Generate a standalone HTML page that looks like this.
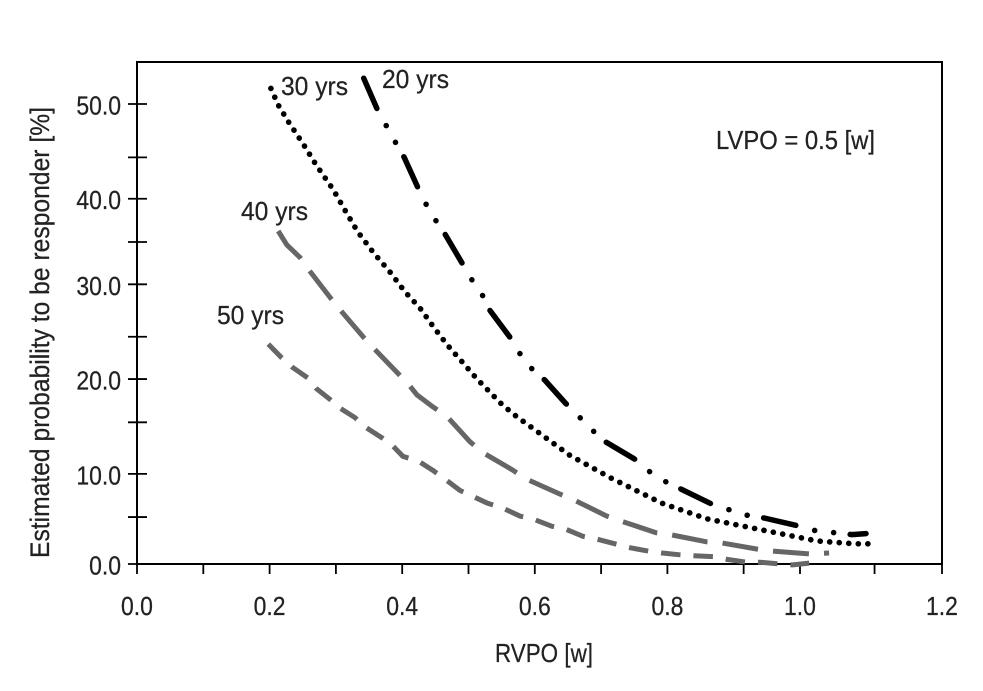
<!DOCTYPE html>
<html lang="en">
<head>
<meta charset="utf-8">
<title>Estimated probability to be responder vs RVPO</title>
<style>
html,body{margin:0;padding:0;background:#fff;width:983px;height:691px;overflow:hidden}
svg{display:block}
text{font-family:"Liberation Sans",sans-serif;fill:#222;font-size:26px;stroke:#222;stroke-width:0.25px}
</style>
</head>
<body>
<svg id="chart" width="983" height="691" viewBox="0 0 983 691" xmlns="http://www.w3.org/2000/svg">
  <rect x="0" y="0" width="983" height="691" fill="#fff"/>
  <g id="ticks"></g>
  <g id="tick-labels"></g>
  <rect x="137" y="62" width="805" height="502" fill="none" stroke="#000" stroke-width="2"/>
  <g id="series"></g>
  <text x="281" y="95" textLength="67" lengthAdjust="spacingAndGlyphs">30 yrs</text>
  <text x="382" y="88" textLength="67" lengthAdjust="spacingAndGlyphs">20 yrs</text>
  <text x="241" y="220" textLength="67" lengthAdjust="spacingAndGlyphs">40 yrs</text>
  <text x="217" y="324" textLength="67" lengthAdjust="spacingAndGlyphs">50 yrs</text>
  <text x="716" y="149" textLength="159" lengthAdjust="spacingAndGlyphs">LVPO = 0.5 [w]</text>
  <text x="495" y="662" textLength="98" lengthAdjust="spacingAndGlyphs">RVPO [w]</text>
  <text transform="translate(49,558) rotate(-90)" x="0" y="0" textLength="451" lengthAdjust="spacingAndGlyphs" style="font-size:27px">Estimated probability to be responder [%]</text>
</svg>
<script>
// Axis tick values and labels
const xMajorTicks = [0, 0.2, 0.4, 0.6, 0.8, 1.0, 1.2];
const xMajorLabels = ["0.0", "0.2", "0.4", "0.6", "0.8", "1.0", "1.2"];
const xMinorTicks = [0.1, 0.3, 0.5, 0.7, 0.915, 1.105];
const yMajorTicks = [0, 9.8, 20.1, 30.4, 39.7, 50];
const yMajorLabels = ["0.0", "10.0", "20.0", "30.0", "40.0", "50.0"];
const yMinorTicks = [5.1, 15.4, 24.7, 35, 44.2];

// Series values
const rvpo20 = [0.342,0.363,0.377,0.391,0.403,0.425,0.436,0.451,0.465,0.492,0.505,0.522,0.532,0.563,0.579,0.597,0.615,0.646,0.667,0.686,0.706,0.753,0.772,0.796,0.819,0.870,0.893,0.920,0.946,1.0,1.023,1.049,1.073,1.093];
const prob20 = [52.8,49.3,47.5,45.7,44.2,40.7,39.1,37.3,35.8,32.5,30.9,29.1,27.6,24.6,22.7,21.1,20.0,17.5,16.0,14.6,13.3,11.3,10.1,9.0,8.2,6.4,5.9,5.3,5.0,4.1,3.6,3.4,3.2,3.3];
const rvpo30 = [0.202,0.213,0.229,0.252,0.270,0.296,0.315,0.333,0.356,0.382,0.404,0.427,0.448,0.468,0.490,0.513,0.551,0.573,0.596,0.653,0.716,0.792,0.860,0.943,1.024,1.077,1.104];
const prob30 = [51.7,49.9,48.0,45.5,43.4,40.7,38.3,36.1,33.9,31.7,29.6,27.8,25.7,23.8,22.0,20.1,17.3,16.0,14.8,11.8,9.3,6.6,4.9,3.7,2.5,2.2,2.2];
const rvpo40 = [0.213,0.226,0.246,0.261,0.293,0.309,0.341,0.359,0.394,0.412,0.422,0.446,0.468,0.502,0.522,0.567,0.585,0.638,0.658,0.709,0.729,0.783,0.804,0.860,0.881,0.937,0.959,1.014,1.041];
const prob40 = [36.2,34.7,33.3,31.8,28.8,27.4,24.7,23.3,20.7,19.3,18.4,17.1,16.0,13.3,12.1,10.2,9.3,7.6,7.0,5.2,4.7,3.4,3.2,2.4,2.3,1.6,1.4,1.1,1.2];
const rvpo50 = [0.198,0.217,0.234,0.258,0.270,0.291,0.305,0.329,0.344,0.370,0.385,0.401,0.424,0.446,0.465,0.487,0.505,0.529,0.551,0.578,0.597,0.626,0.646,0.673,0.694,0.721,0.741,0.771,0.792,0.819,0.840,0.869,0.890,0.920,0.940,0.970,0.989,1.013];
const prob50 = [23.9,22.5,21.4,20.2,19.1,17.9,17.0,15.9,14.9,13.7,12.9,11.7,11.2,10.2,9.2,8.0,7.4,6.6,6.1,5.2,4.9,4.1,3.8,3.0,2.7,2.2,1.8,1.4,1.2,1.0,0.9,0.8,0.5,0.2,0.2,0,-0.1,0.1];

// Axis functions
function xScale(v) {
  return v <= 1 ? 137 + v * 663 : 800 + (v - 1) * 710;
}
function yScale(v) {
  return 564 - v * 9.2;
}

const NS = "http://www.w3.org/2000/svg";
const tickGroup = document.getElementById("ticks");
const labelGroup = document.getElementById("tick-labels");
const seriesGroup = document.getElementById("series");

function addTick(x1, y1, x2, y2) {
  const el = document.createElementNS(NS, "line");
  el.setAttribute("x1", x1);
  el.setAttribute("y1", y1);
  el.setAttribute("x2", x2);
  el.setAttribute("y2", y2);
  el.setAttribute("stroke", "#000");
  el.setAttribute("stroke-width", "1.8");
  
  
  tickGroup.appendChild(el);
}

function addLabel(str, x, y, anchor) {
  const el = document.createElementNS(NS, "text");
  el.setAttribute("x", x);
  el.setAttribute("y", y);
  el.setAttribute("text-anchor", anchor);
  el.setAttribute("style", "font-size:25.5px");
  el.setAttribute("transform", "translate(" + x + " 0) scale(0.9 1) translate(" + (-x) + " 0)");
  
  
  el.textContent = str;
  labelGroup.appendChild(el);
}

xMajorTicks.concat(xMinorTicks).forEach(function (v) {
  addTick(xScale(v), 564, xScale(v), 574);
});
yMajorTicks.concat(yMinorTicks).forEach(function (v) {
  addTick(128, yScale(v), 147, yScale(v));
});
xMajorTicks.forEach(function (v, i) {
  addLabel(xMajorLabels[i], xScale(v), 615, "middle");
});
yMajorTicks.forEach(function (v, i) {
  addLabel(yMajorLabels[i], 121, yScale(v) + 10.5, "end");
});

function addSeries(xs, ys, color, width, dash, name) {
  const el = document.createElementNS(NS, "path");
  const d = xs.map(function (v, i) {
    return (i ? "L" : "M") + xScale(v).toFixed(1) + " " + yScale(ys[i]).toFixed(1);
  }).join(" ");
  el.setAttribute("d", d);
  el.setAttribute("fill", "none");
  el.setAttribute("stroke", color);
  el.setAttribute("stroke-width", width);
  el.setAttribute("stroke-linecap", dash.cap);
  el.setAttribute("stroke-linejoin", "round");
  el.setAttribute("stroke-dasharray", dash.pattern);
  
  
  seriesGroup.appendChild(el);
}

addSeries(rvpo50, prob50, "#666", 5, { pattern: "19.5 13", cap: "butt" }, "series-50-yrs");
addSeries(rvpo40, prob40, "#666", 5, { pattern: "36 15.1", cap: "butt" }, "series-40-yrs");
addSeries(rvpo30, prob30, "#000", 5.6, { pattern: "0.1 9.45", cap: "round" }, "series-30-yrs");
addSeries(rvpo20, prob20, "#000", 5.5, { pattern: "33 19.5 0.1 19 0.1 16.6", cap: "round" }, "series-20-yrs");
</script>
</body>
</html>
